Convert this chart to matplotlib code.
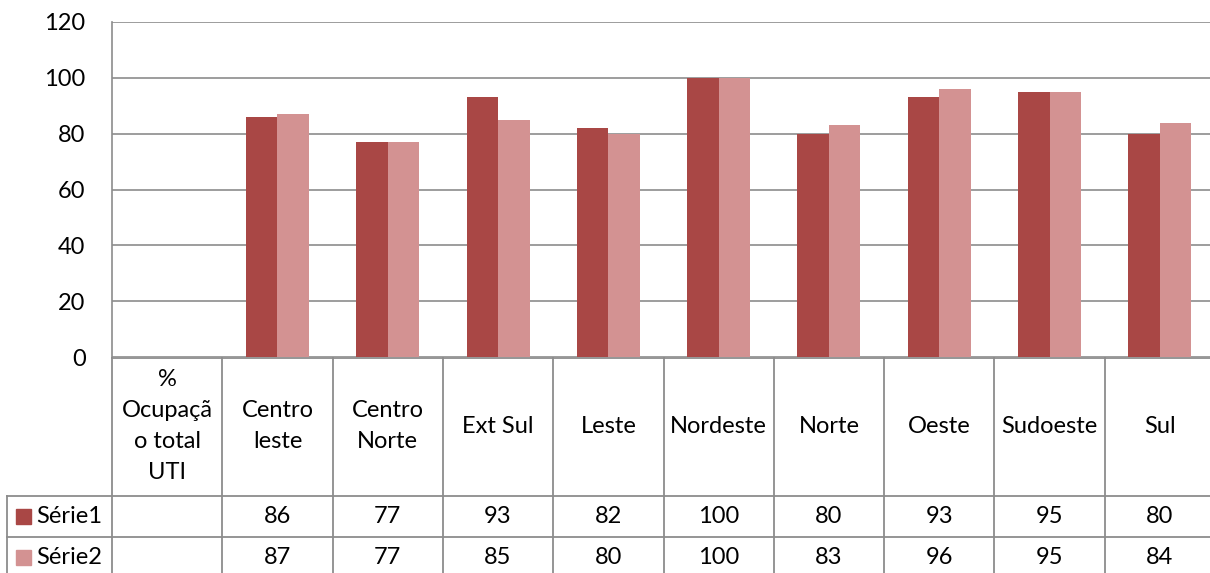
import matplotlib
matplotlib.use('Agg')
import matplotlib.pyplot as plt
import numpy as np

categories = ['% Ocupação total UTI', 'Centro leste', 'Centro Norte', 'Ext Sul', 'Leste',
              'Nordeste', 'Norte', 'Oeste', 'Sudoeste', 'Sul']
header_labels = ['%\nOcupaçã\no total\nUTI', 'Centro\nleste', 'Centro\nNorte', 'Ext Sul', 'Leste',
                 'Nordeste', 'Norte', 'Oeste', 'Sudoeste', 'Sul']
serie1 = [None, 86, 77, 93, 82, 100, 80, 93, 95, 80]
serie2 = [None, 87, 77, 85, 80, 100, 83, 96, 95, 84]
series_names = ['Série1', 'Série2']
yticks = [0, 20, 40, 60, 80, 100, 120]

C1 = '#A94745'
C2 = '#D39292'
GRID = '#8C8C8C'
FONT = ['Lato', 'DejaVu Sans']
FS = 17

W, H = 1210, 573
fig = plt.figure(figsize=(W / 100, H / 100), dpi=100)

# plot area in pixel units (it runs past the right edge of the picture)
x0, x1 = 112, 1215
y_top, y_zero = 22, 357
ax = fig.add_axes([x0 / W, (H - y_zero) / H, (x1 - x0) / W, (y_zero - y_top) / H])
n = len(categories)
ax.set_xlim(0, n)
ax.set_ylim(0, 120)

bw = 1 / 3.5
xs = np.arange(n) + 0.5
v1 = np.array([np.nan if v is None else v for v in serie1], dtype=float)
v2 = np.array([np.nan if v is None else v for v in serie2], dtype=float)
ax.bar(xs - bw / 2, v1, width=bw, color=C1, zorder=3)
ax.bar(xs + bw / 2, v2, width=bw, color=C2, zorder=3)

ax.set_yticks(yticks)
ax.set_yticklabels([str(t) for t in yticks], fontsize=FS, family=FONT)
ax.tick_params(axis='y', length=0, pad=19)
ax.set_xticks([])
ax.grid(axis='y', color=GRID, linewidth=1.2, zorder=0)
for s in ['top', 'right', 'bottom']:
    ax.spines[s].set_visible(False)
ax.spines['left'].set_color(GRID)
ax.spines['left'].set_linewidth(1.2)

# data table below the plot, drawn in pixel coordinates
tb = fig.add_axes([0, 0, 1, (H - y_zero) / H])
tb.set_xlim(0, W)
tb.set_ylim(H, y_zero)
tb.axis('off')
cw = (x1 - x0) / n
row1_top, row2_top = 495.5, 537
lw = 1.3
tb.plot([x0, x1], [y_zero + 0.5, y_zero + 0.5], color=GRID, lw=lw)
for i in range(n + 1):
    xx = x0 + i * cw
    tb.plot([xx, xx], [y_zero, H + 5], color=GRID, lw=lw)
for yy in (row1_top, row2_top):
    tb.plot([7, x1], [yy, yy], color=GRID, lw=lw)
tb.plot([7, 7], [row1_top, H + 5], color=GRID, lw=lw)

for i, lab in enumerate(header_labels):
    tb.text(x0 + (i + 0.5) * cw, (y_zero + row1_top) / 2, lab, ha='center', va='center',
            fontsize=FS, family=FONT, linespacing=1.58)

rows = [(series_names[0], serie1, C1, row1_top, row2_top),
        (series_names[1], serie2, C2, row2_top, row2_top + 41)]
for name, vals, col, top, bot in rows:
    yc = (top + bot) / 2
    tb.add_patch(plt.Rectangle((16, yc - 7.5), 15, 15, color=col))
    tb.text(36, yc, name, ha='left', va='center', fontsize=FS, family=FONT)
    for i, v in enumerate(vals):
        if v is not None:
            tb.text(x0 + (i + 0.5) * cw, yc, str(v), ha='center', va='center',
                    fontsize=FS, family=FONT)

fig.savefig('out.png', dpi=100)
